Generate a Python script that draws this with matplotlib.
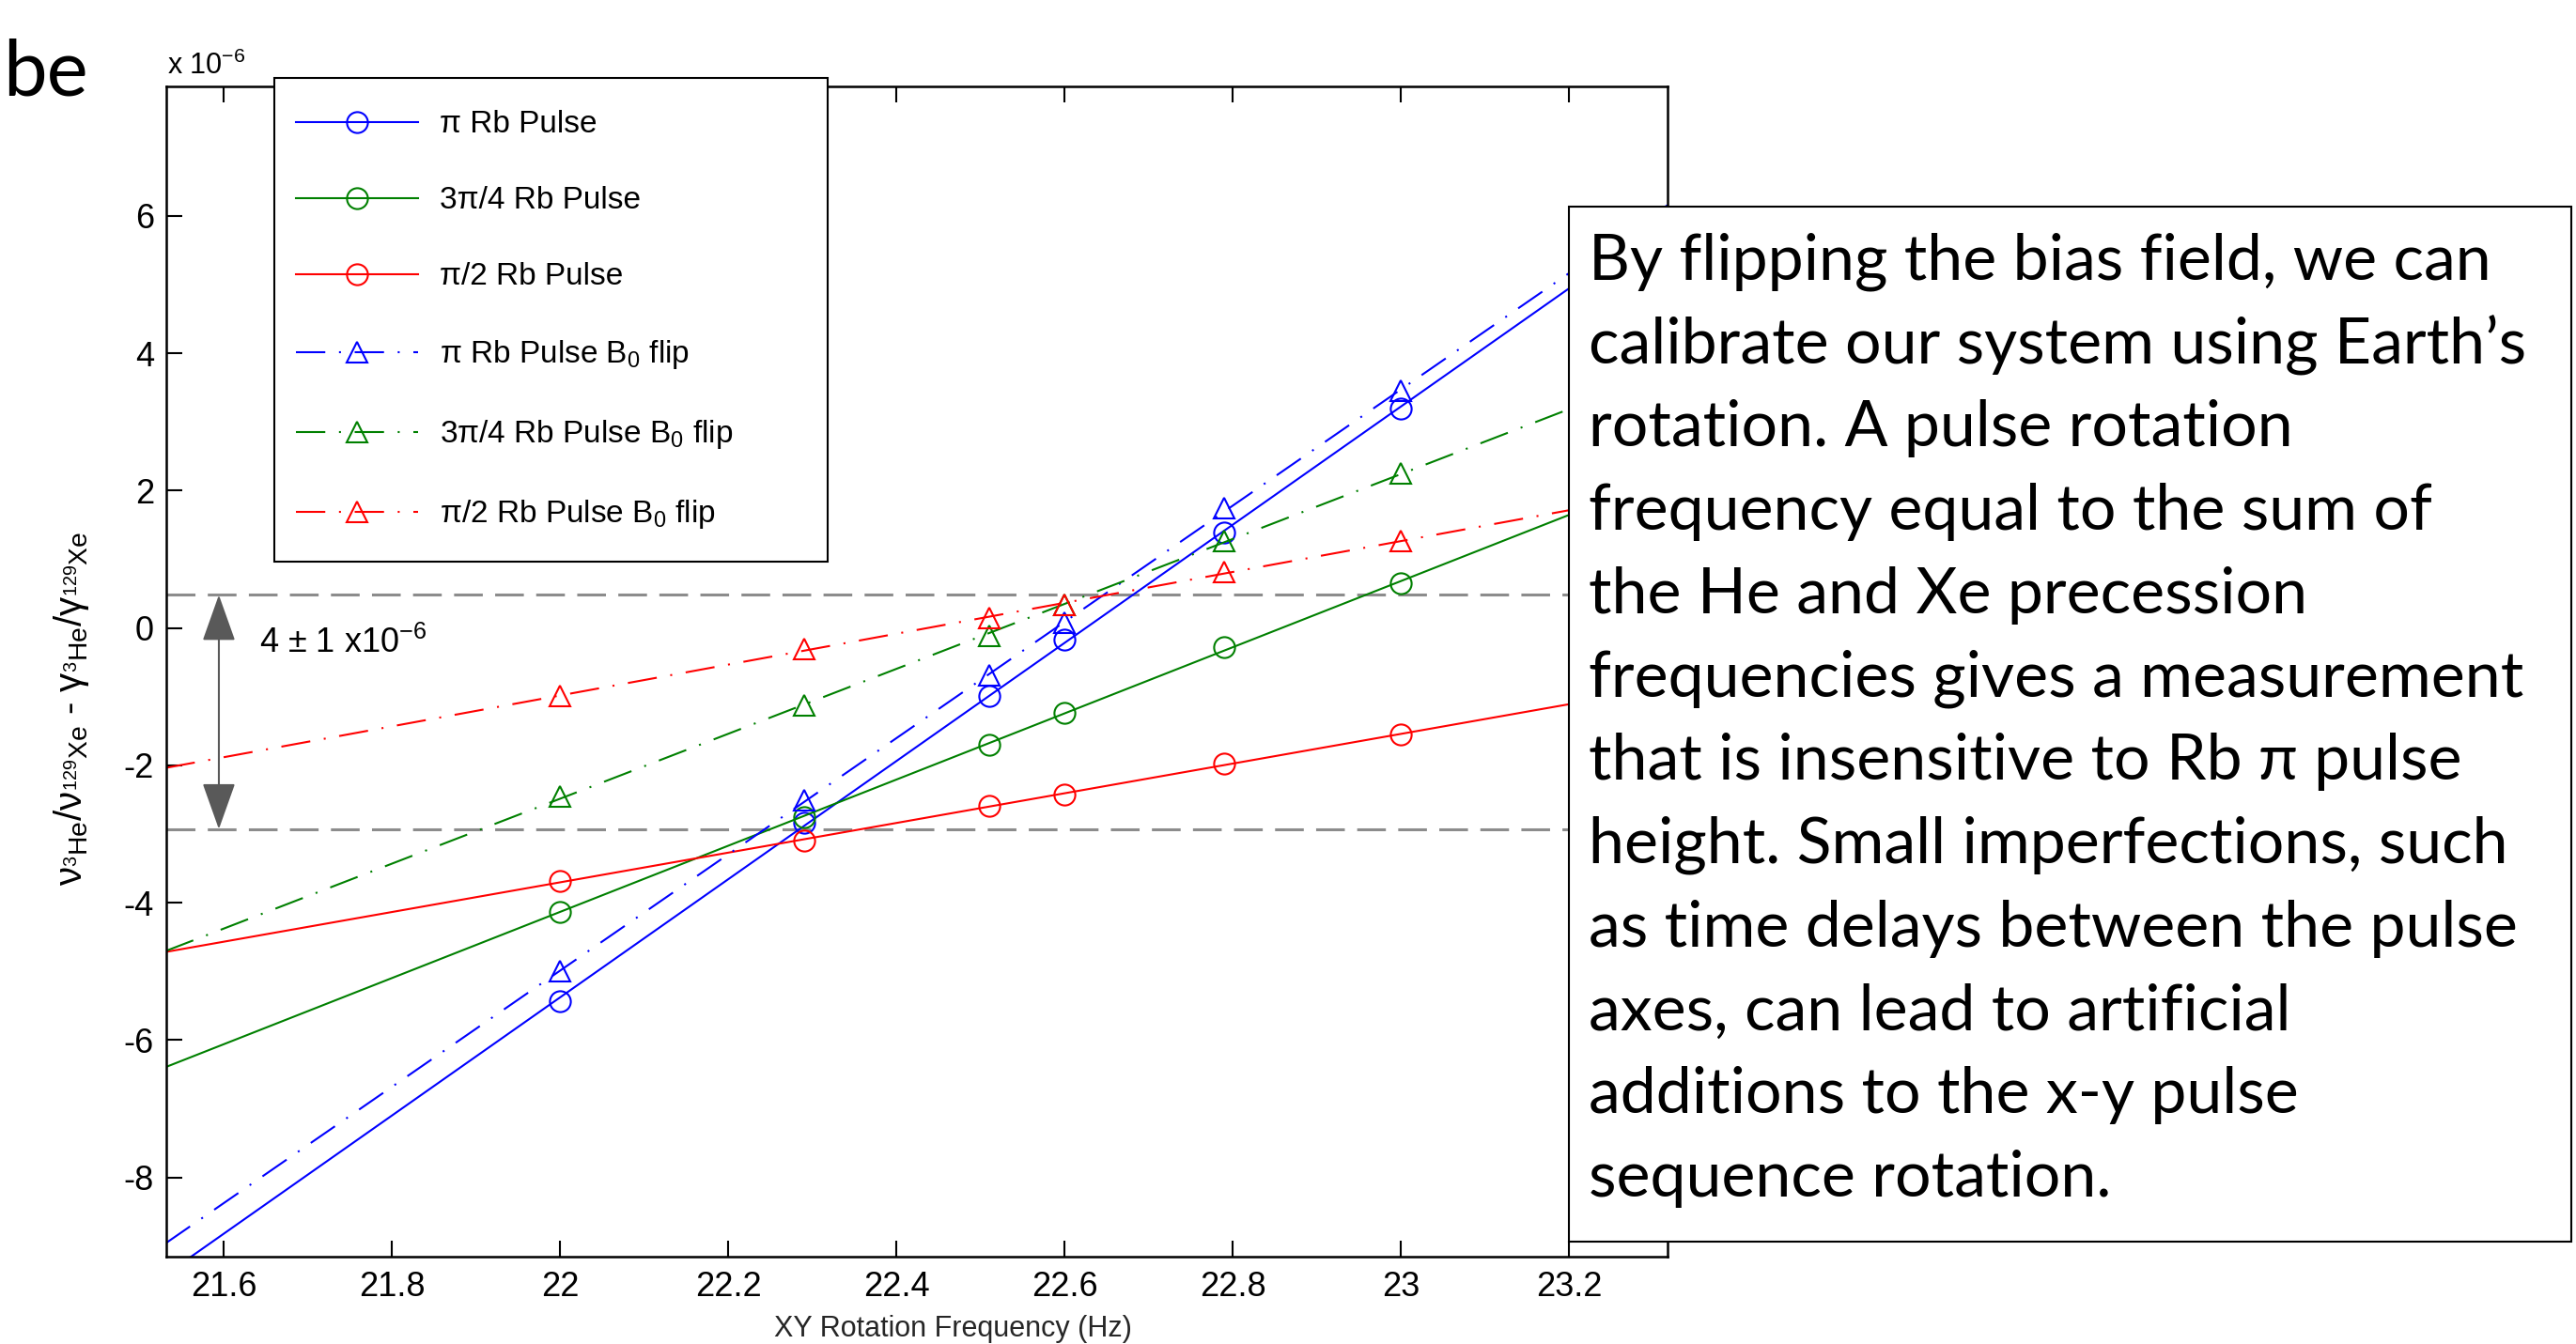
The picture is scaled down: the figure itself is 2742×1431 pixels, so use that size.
import numpy as np
import matplotlib
matplotlib.use("Agg")
import matplotlib.pyplot as plt
from matplotlib.patches import Rectangle
from matplotlib.lines import Line2D
from matplotlib.ticker import FormatStrFormatter

# Data (y values in units of 1e-6)
freq = [22.0, 22.29, 22.51, 22.6, 22.79, 23.0]
pi_pulse = [-5.43, -2.83, -0.99, -0.17, 1.39, 3.20]
pi34_pulse = [-4.13, -2.75, -1.70, -1.23, -0.28, 0.65]
pi2_pulse = [-3.69, -3.10, -2.59, -2.43, -1.97, -1.55]
pi_flip = [-5.0, -2.51, -0.69, 0.07, 1.74, 3.45]
pi34_flip = [-2.46, -1.13, -0.11, 0.34, 1.27, 2.25]
pi2_flip = [-0.99, -0.30, 0.14, 0.34, 0.82, 1.26]

labels = ["π Rb Pulse", "3π/4 Rb Pulse", "π/2 Rb Pulse",
          "π Rb Pulse B$_0$ flip", "3π/4 Rb Pulse B$_0$ flip", "π/2 Rb Pulse B$_0$ flip"]
band = [0.48, -2.93]
band_text = "4 ± 1 x10$^{-6}$"

xticks = [21.6, 21.8, 22.0, 22.2, 22.4, 22.6, 22.8, 23.0, 23.2]
yticks = [-8, -6, -4, -2, 0, 2, 4, 6]
x_lim = (21.531, 23.317)
y_lim = (-9.15, 7.88)

note_lines = [
    "By flipping the bias field, we can",
    "calibrate our system using Earth’s",
    "rotation. A pulse rotation",
    "frequency equal to the sum of",
    "the He and Xe precession",
    "frequencies gives a measurement",
    "that is insensitive to Rb π pulse",
    "height. Small imperfections, such",
    "as time delays between the pulse",
    "axes, can lead to artificial",
    "additions to the x-y pulse",
    "sequence rotation.",
]

plt.rcParams['font.family'] = ['Liberation Sans', 'DejaVu Sans']
plt.rcParams['mathtext.default'] = 'regular'
plt.rcParams['axes.unicode_minus'] = False

fig = plt.figure(figsize=(27.42, 14.31), dpi=100)
ax = fig.add_axes([0.0644, 0.0652, 0.5829, 0.8703])

dashdot = (0, (15, 7, 1, 7))
series = [
    (pi_pulse, 'blue', 'o', '-'),
    (pi34_pulse, 'green', 'o', '-'),
    (pi2_pulse, 'red', 'o', '-'),
    (pi_flip, 'blue', '^', dashdot),
    (pi34_flip, 'green', '^', dashdot),
    (pi2_flip, 'red', '^', dashdot),
]

handles = []
xs = np.array(x_lim)
for vals, color, marker, ls in series:
    # straight-line fit through the points, drawn across the whole axis
    k, b = np.polyfit(freq, vals, 1)
    ax.plot(xs, k * xs + b, color=color, ls=ls, lw=1.5)
    ax.plot(freq, vals, ls='none', marker=marker, ms=16, mfc='none', mec=color, mew=1.5)
    handles.append(Line2D([], [], color=color, ls=ls, lw=1.5, marker=marker,
                          ms=16, mfc='none', mec=color, mew=1.5))

# band of the measurement
for yb in band:
    ax.axhline(yb, color='0.55', lw=2.2, ls=(0, (10, 4.3)), zorder=1)
ax.annotate('', xy=(21.594, band[0]), xytext=(21.594, band[1]),
            arrowprops=dict(arrowstyle='<|-|>,head_length=0.9,head_width=0.32',
                            color='0.35', lw=1.5, mutation_scale=35,
                            shrinkA=0, shrinkB=0))
ax.text(21.642, -0.22, band_text, fontsize=26, va='center', ha='left')

ax.set_xlim(x_lim)
ax.set_ylim(y_lim)
ax.set_xticks(xticks)
ax.set_yticks(yticks)
ax.xaxis.set_major_formatter(FormatStrFormatter('%g'))
ax.tick_params(direction='in', top=True, right=True, length=12.5, width=1.5,
               labelsize=26)
ax.tick_params(axis='x', pad=11)
ax.tick_params(axis='y', pad=9)
for sp in ax.spines.values():
    sp.set_linewidth(1.8)

ax.set_xlabel("XY Rotation Frequency (Hz)", fontsize=22, color='0.15')
ax.xaxis.set_label_coords(0.524, -0.05)
ax.set_ylabel("ν$_{^3He}$/ν$_{^{129}Xe}$ - γ$_{^3He}$/γ$_{^{129}Xe}$", fontsize=29)
ax.yaxis.set_label_coords(-0.05, 0.468)

fig.text(0.0649, 0.945, "x 10$^{-6}$", fontsize=22, va='baseline', ha='left')

# legend with its own box
fig.add_artist(Rectangle((0.1065, 0.5821), 0.2148, 0.3599, transform=fig.transFigure,
                         facecolor='white', edgecolor='black', lw=1.5, zorder=4))
fig.legend(handles, labels, loc='upper left', bbox_to_anchor=(0.1149, 0.918),
           frameon=False, fontsize=24, handlelength=3.9, handletextpad=0.7,
           labelspacing=1.5, borderpad=0, borderaxespad=0, numpoints=1)

# text box on the right
fig.add_artist(Rectangle((0.6090, 0.0762), 0.3891, 0.7701, transform=fig.transFigure,
                         facecolor='white', edgecolor='black', lw=1.5, zorder=4))
for i, line in enumerate(note_lines):
    fig.text(0.6167, 1 - (298 + 88.7 * i) / 1431, line, fontsize=49,
             family=['Lato', 'DejaVu Sans'], va='baseline', ha='left', zorder=5)

fig.text(0.001, 0.9294, "be", fontsize=60, family=['Lato', 'DejaVu Sans'],
         va='baseline', ha='left')

fig.savefig("out.png", dpi=100)
